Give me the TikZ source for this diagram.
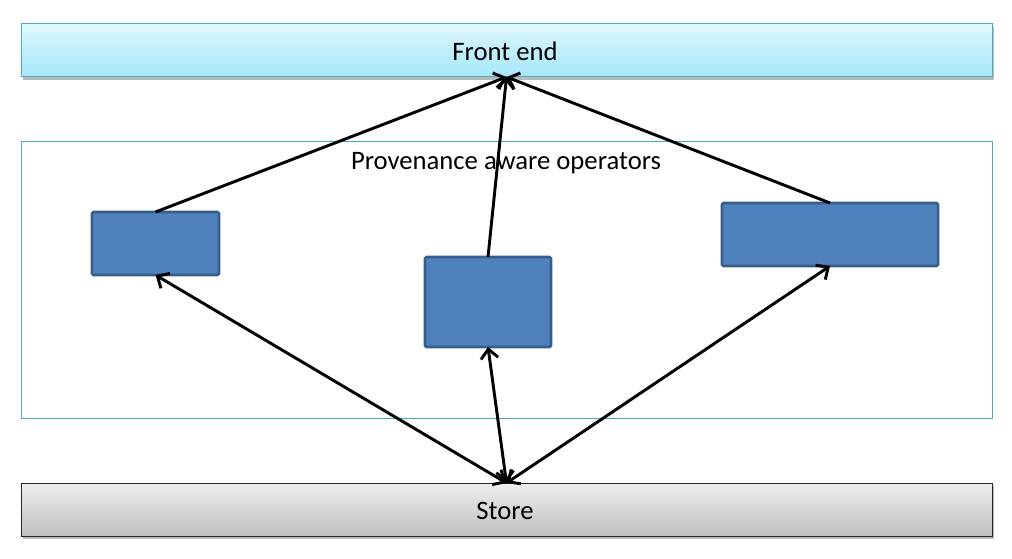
\documentclass[tikz,border=0pt]{standalone}
\usepackage{fontspec}
\setmainfont{Carlito}
\usetikzlibrary{arrows.meta,shadows}
\definecolor{feTop}{HTML}{DFF7FD}
\definecolor{feBot}{HTML}{A4E7F9}
\definecolor{feLine}{HTML}{4BACC6}
\definecolor{stTop}{HTML}{EEEEEE}
\definecolor{stBot}{HTML}{C0C0C0}
\definecolor{opFill}{HTML}{4F81BD}
\definecolor{opLine}{HTML}{385D8A}
\tikzset{
  sz/.style 2 args={minimum width=#1*0.75pt, minimum height=#2*0.75pt, inner sep=0pt, outer sep=0pt},
  bar/.style={draw, line width=0.75pt, drop shadow={shadow xshift=1.5pt, shadow yshift=-2pt, opacity=0.45, fill=black!60}},
  fe/.style={bar, draw=feLine, top color=feTop, bottom color=feBot},
  st/.style={bar, draw=black!85, top color=stTop, bottom color=stBot},
  op/.style={draw=opLine, fill=opFill, line width=1.9pt, rounded corners=1pt},
  cont/.style={draw=feLine, line width=0.6pt},
  lbl/.style={font=\fontsize{20}{24}\selectfont, text=black},
  tip/.style={Straight Barb[length=7pt,width=13pt,line width=2.2pt]},
  conn/.style={line width=2.2pt, draw=black, arrows={-Straight Barb[length=7pt,width=13pt,line width=2.2pt]}},
  conn2/.style={line width=2.2pt, draw=black, arrows={Straight Barb[length=7pt,width=13pt,line width=2.2pt]-Straight Barb[length=7pt,width=13pt,line width=2.2pt]}},
}
\begin{document}
\begin{tikzpicture}[x=0.75pt,y=-0.75pt]
\useasboundingbox (0,0) rectangle (1012,559);
\node[fe, sz={971}{53}] (fe) at (506.5,50.5) {};
\node[lbl] (felbl) at (505,51) {Front end};
\node[st, sz={971}{53}] (st) at (506.5,509.5) {};
\node[lbl] (stlbl) at (505,511) {Store};
\node[cont, sz={971}{277}] (cont) at (506.5,279.5) {};
\node[lbl] (contlbl) at (506,163.5) {Provenance aware operators};
\node[op, sz={127}{63}] (lb) at (155.5,243.5) {};
\node[op, sz={126}{90}] (mb) at (488,302) {};
\node[op, sz={216}{63}] (rb) at (830,234.5) {};
\draw[conn] (lb.north) -- (fe.south);
\draw[conn] (mb.north) -- (fe.south);
\draw[conn] (rb.north) -- (fe.south);
\draw[conn2] (st.north) -- (lb.south);
\draw[conn2] (st.north) -- (mb.south);
\draw[conn2] (st.north) -- (rb.south);
\end{tikzpicture}
\end{document}
